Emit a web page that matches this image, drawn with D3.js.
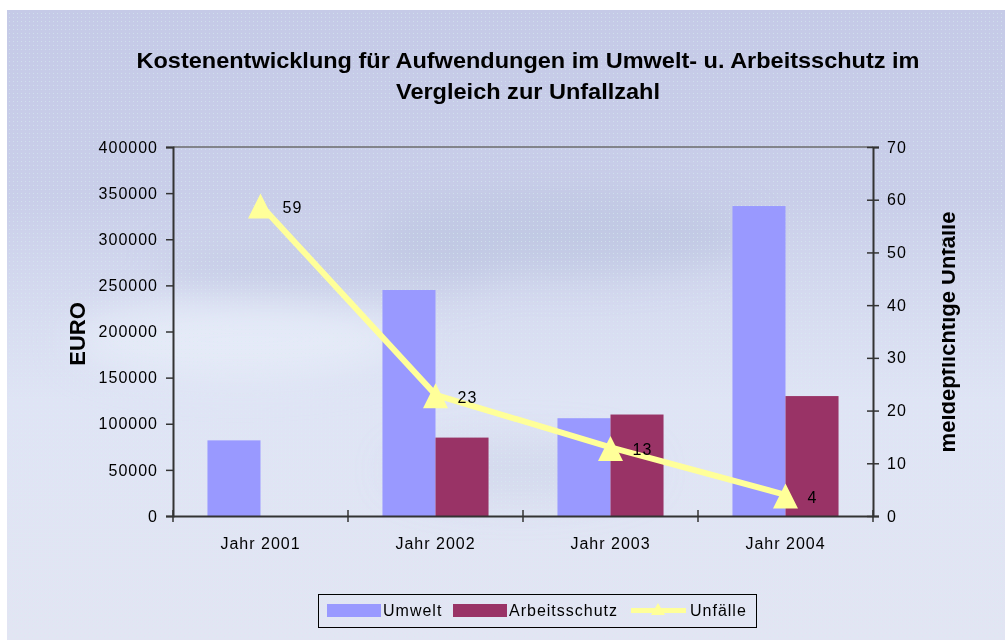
<!DOCTYPE html>
<html><head><meta charset="utf-8">
<script src="https://cdn.jsdelivr.net/npm/d3@7"></script>
<style>html,body{margin:0;padding:0;background:#fff;}svg{display:block;}</style>
</head><body>
<script>
const categories = ["Jahr 2001", "Jahr 2002", "Jahr 2003", "Jahr 2004"];
const umwelt = [82000, 245000, 106000, 336000];
const arbeitsschutz = [0, 85000, 110000, 130000];
const unfaelle = [59, 23, 13, 4];
const leftTicks = [0, 50000, 100000, 150000, 200000, 250000, 300000, 350000, 400000];
const rightTicks = [0, 10, 20, 30, 40, 50, 60, 70];
const seriesNames = ["Umwelt", "Arbeitsschutz", "Unfälle"];
const titleLines = ["Kostenentwicklung für Aufwendungen im Umwelt- u. Arbeitsschutz im", "Vergleich zur Unfallzahl"];

const W = 1005, H = 640;
const m = {left: 173, right: 873, top: 147, bottom: 516};
const font = "'Liberation Sans', Arial, sans-serif";
const fs = 16, ls = 1;

const svg = d3.select("body").append("svg").attr("width", W).attr("height", H);
const defs = svg.append("defs");
const g1 = defs.append("linearGradient").attr("id", "bg").attr("x1", 0).attr("y1", 0).attr("x2", 0).attr("y2", 1);
[[0, "#c5cae7"], [0.3, "#c9cee9"], [0.5, "#d8ddf1"], [0.62, "#dfe4f5"], [1, "#e2e5f3"]].forEach(([o, c]) =>
  g1.append("stop").attr("offset", o).attr("stop-color", c));
const blur = defs.append("filter").attr("id", "blur").attr("x", "-50%").attr("y", "-50%").attr("width", "200%").attr("height", "200%");
blur.append("feGaussianBlur").attr("stdDeviation", 18);
const pat = defs.append("pattern").attr("id", "dots").attr("width", 4).attr("height", 4).attr("patternUnits", "userSpaceOnUse");
pat.append("rect").attr("x", 1).attr("y", 1).attr("width", 1).attr("height", 1).attr("fill", "#d6f0f0").attr("opacity", 0.55);
defs.append("clipPath").attr("id", "rclip").append("rect").attr("x", 942).attr("y", 0).attr("width", 60).attr("height", H);

svg.append("rect").attr("x", 7).attr("y", 10).attr("width", W - 7).attr("height", H - 10).attr("fill", "url(#bg)");
const swirl = svg.append("g").attr("filter", "url(#blur)");
swirl.append("ellipse").attr("cx", 560).attr("cy", 235).attr("rx", 190).attr("ry", 40).attr("fill", "#b8c1de").attr("opacity", 0.55);
swirl.append("ellipse").attr("cx", 330).attr("cy", 270).attr("rx", 170).attr("ry", 30).attr("fill", "#bcc4e0").attr("opacity", 0.45);
swirl.append("ellipse").attr("cx", 240).attr("cy", 340).attr("rx", 170).attr("ry", 40).attr("fill", "#e8edf9").attr("opacity", 0.75);
swirl.append("ellipse").attr("cx", 520).attr("cy", 470).attr("rx", 130).attr("ry", 30).attr("fill", "#c4cbe4").attr("opacity", 0.4);
svg.append("rect").attr("x", 7).attr("y", 10).attr("width", W - 7).attr("height", H - 10).attr("fill", "url(#dots)");

// Title
const titleLen = [783, 264];
svg.append("g").selectAll("text").data(titleLines).join("text")
  .attr("x", 528).attr("y", (d, i) => 68 + i * 31)
  .attr("text-anchor", "middle").attr("font-family", font).attr("font-weight", "bold")
  .attr("font-size", 22).attr("fill", "#000")
  .attr("textLength", (d, i) => titleLen[i]).attr("lengthAdjust", "spacingAndGlyphs").text(d => d);

// Scales
const x = d3.scaleBand().domain(categories).range([m.left, m.right]).paddingInner(0).paddingOuter(0);
const inner = d3.scaleBand().domain(["u", "a"]).range([0, x.bandwidth()]).paddingInner(0).paddingOuter(0.65);
const yL = d3.scaleLinear().domain([0, 400000]).range([m.bottom, m.top]);
const yR = d3.scaleLinear().domain([0, 70]).range([m.bottom, m.top]);

// plot top border
svg.append("line").attr("x1", m.left).attr("x2", m.right).attr("y1", m.top).attr("y2", m.top)
  .attr("stroke", "#6b6b6b").attr("stroke-width", 1.5);

// Bars
const bars = svg.append("g");
bars.selectAll("rect.u").data(umwelt).join("rect").attr("class", "u")
  .attr("x", (d, i) => x(categories[i]) + inner("u")).attr("width", inner.bandwidth())
  .attr("y", d => yL(d)).attr("height", d => yL(0) - yL(d)).attr("fill", "#9999ff");
bars.selectAll("rect.a").data(arbeitsschutz).join("rect").attr("class", "a")
  .attr("x", (d, i) => x(categories[i]) + inner("a")).attr("width", inner.bandwidth())
  .attr("y", d => yL(d)).attr("height", d => yL(0) - yL(d)).attr("fill", "#993366");

// Axes
const axisStyle = g => {
  g.selectAll("path.domain").attr("stroke", "#333").attr("stroke-width", 2);
  g.selectAll(".tick line").attr("stroke", "#333").attr("stroke-width", 1.5);
  g.selectAll("text").attr("font-family", font).attr("font-size", fs).attr("letter-spacing", ls).attr("fill", "#000");
};
const axL = svg.append("g").attr("transform", `translate(${m.left},0)`)
  .call(d3.axisLeft(yL).tickValues(leftTicks).tickFormat(d3.format("d")).tickSizeOuter(0).tickSize(7).tickPadding(8));
axisStyle(axL);
const axR = svg.append("g").attr("transform", `translate(${m.right},0)`)
  .call(d3.axisRight(yR).tickValues(rightTicks).tickSizeOuter(0).tickSize(6).tickPadding(8));
axisStyle(axR);
axR.selectAll(".tick line").attr("x1", -6);
const axB = svg.append("g").attr("transform", `translate(0,${m.bottom})`)
  .call(d3.axisBottom(x).tickSize(0).tickPadding(22).tickSizeOuter(0));
axisStyle(axB);
axB.selectAll(".tick line").remove();
// category separator ticks
const seps = categories.map(c => x(c)).concat([m.right]);
svg.append("g").selectAll("line").data(seps).join("line")
  .attr("x1", d => d).attr("x2", d => d).attr("y1", m.bottom - 6).attr("y2", m.bottom + 6)
  .attr("stroke", "#333").attr("stroke-width", 1.5);

// Axis titles
svg.append("text").attr("transform", `translate(85,334) rotate(-90)`).attr("text-anchor", "middle")
  .attr("font-family", font).attr("font-weight", "bold").attr("font-size", 22).text("EURO");
svg.append("g").attr("clip-path", "url(#rclip)").append("text")
  .attr("transform", `translate(955,332) rotate(-90)`).attr("text-anchor", "middle")
  .attr("font-family", font).attr("font-weight", "bold").attr("font-size", 22).text("meldepflichtige Unfälle");

// Line
const cx = (d, i) => x(categories[i]) + x.bandwidth() / 2;
const line = d3.line().x(cx).y(d => yR(d));
svg.append("path").datum(unfaelle).attr("d", line).attr("fill", "none")
  .attr("stroke", "#ffff99").attr("stroke-width", 6).attr("stroke-linejoin", "round");
const triShape = (w, h) => ({draw(ctx) { ctx.moveTo(0, -h / 2); ctx.lineTo(w / 2, h / 2); ctx.lineTo(-w / 2, h / 2); ctx.closePath(); }});
const tri = d3.symbol().type(triShape(25, 25));
svg.append("g").selectAll("path").data(unfaelle).join("path")
  .attr("transform", (d, i) => `translate(${cx(d, i)},${yR(d) + 1})`).attr("d", tri).attr("fill", "#ffff99");
svg.append("g").selectAll("text").data(unfaelle).join("text")
  .attr("x", (d, i) => cx(d, i) + 22).attr("y", d => yR(d) + 8)
  .attr("font-family", font).attr("font-size", fs).attr("letter-spacing", ls).attr("fill", "#000").text(d => d);

// Legend
const lg = svg.append("g");
lg.append("rect").attr("x", 318.5).attr("y", 594.5).attr("width", 438).attr("height", 33)
  .attr("fill", "none").attr("stroke", "#000").attr("stroke-width", 1);
const legendX = [327, 453, 631];
const textX = [383, 509, 690];
lg.append("rect").attr("x", legendX[0]).attr("y", 604).attr("width", 54).attr("height", 13).attr("fill", "#9999ff");
lg.append("rect").attr("x", legendX[1]).attr("y", 604).attr("width", 54).attr("height", 13).attr("fill", "#993366");
lg.append("line").attr("x1", legendX[2]).attr("x2", legendX[2] + 55).attr("y1", 610.5).attr("y2", 610.5)
  .attr("stroke", "#ffff99").attr("stroke-width", 5);
lg.append("path").attr("transform", `translate(${legendX[2] + 27},${609})`)
  .attr("d", d3.symbol().type(triShape(14, 12))).attr("fill", "#ffff99");
lg.selectAll("text").data(seriesNames).join("text")
  .attr("x", (d, i) => textX[i]).attr("y", 616).attr("font-family", font).attr("font-size", fs)
  .attr("letter-spacing", ls).attr("fill", "#000").text(d => d);
</script>
</body></html>
